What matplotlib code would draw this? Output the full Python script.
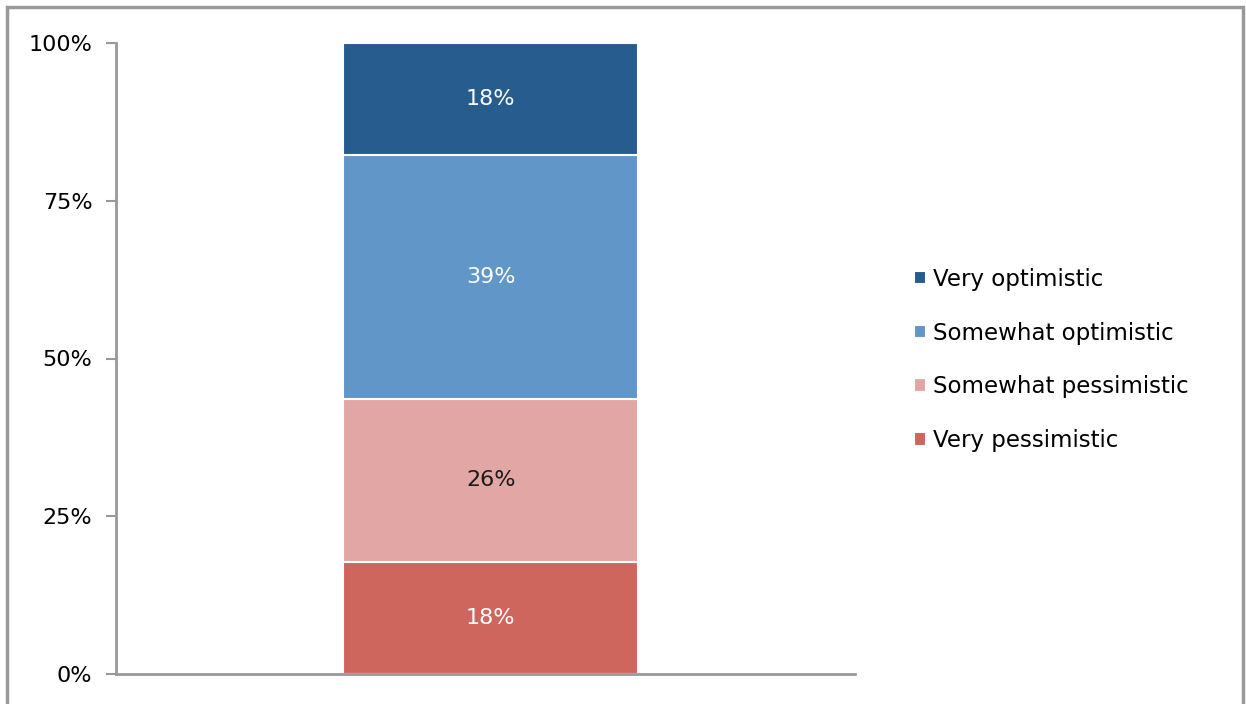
import matplotlib
matplotlib.use("Agg")
import matplotlib.pyplot as plt
from matplotlib.patches import Rectangle
from matplotlib.ticker import FuncFormatter
import numpy as np

# data, bottom to top
categories = ["Very pessimistic", "Somewhat pessimistic", "Somewhat optimistic", "Very optimistic"]
labels = ["18%", "26%", "39%", "18%"]
values = [18, 26, 39, 18]
colors = ["#CE665E", "#E2A7A5", "#6096C8", "#275D8E"]
text_colors = ["white", "#1a1a1a", "white", "white"]

plt.rcParams['font.family'] = ['DejaVu Sans']

fig = plt.figure(figsize=(12.46, 7.04), dpi=100)
ax = fig.add_axes([116/1246, 1-674/704, (855-116)/1246, (674-43)/704])

shares = np.array(values) / sum(values)
bottom = 0.0
handles = []
for cat, s, col, lab, tc in zip(categories, shares, colors, labels, text_colors):
    b = ax.bar(0.007, s, width=0.4, bottom=bottom, color=col, edgecolor="white", linewidth=1.5, label=cat)
    handles.append(b)
    ax.text(0.007, bottom + s/2, lab, ha="center", va="center", color=tc, fontsize=16)
    bottom += s

ax.set_xlim(-0.5, 0.5)
ax.set_ylim(0, 1)
ax.set_yticks([0, 0.25, 0.5, 0.75, 1.0])
ax.yaxis.set_major_formatter(FuncFormatter(lambda v, p: "%d%%" % round(v*100)))
ax.set_xticks([])
ax.tick_params(axis="y", length=7, width=1.5, color="#999999", labelsize=16, pad=10)
for sp in ["top", "right"]:
    ax.spines[sp].set_visible(False)
for sp in ["left", "bottom"]:
    ax.spines[sp].set_color("#999999")
    ax.spines[sp].set_linewidth(2)

leg = fig.legend(handles=handles[::-1], labels=categories[::-1], loc="center left",
                 bbox_to_anchor=(893/1246, 1-360/704), frameon=False, fontsize=16.5,
                 handlelength=0.55, handleheight=0.55, handletextpad=0.3, labelspacing=1.35)

# outer border of the chart area
fig.patches.append(Rectangle((7/1246, -0.05), (1243-7)/1246, 1.05-7/704, transform=fig.transFigure,
                             fill=False, edgecolor="#999999", linewidth=2.5))

fig.savefig("out.png", dpi=100)
